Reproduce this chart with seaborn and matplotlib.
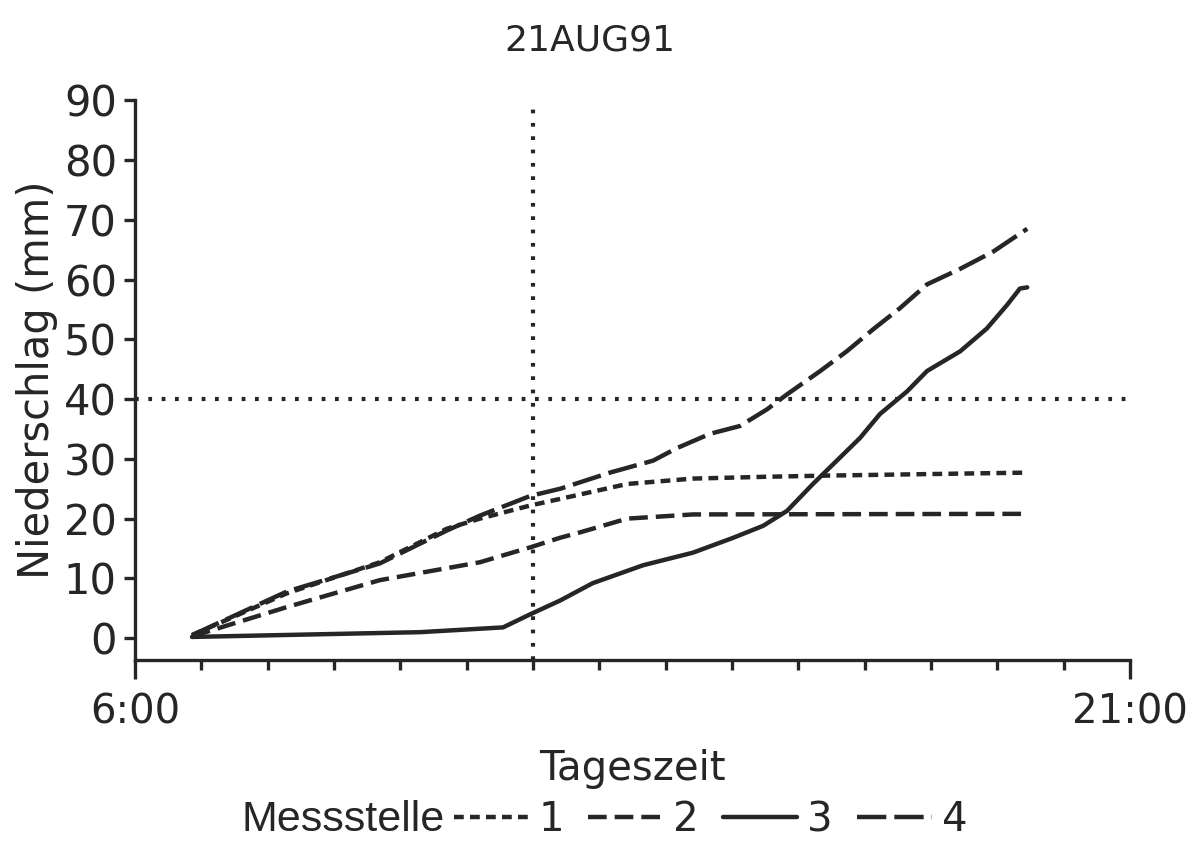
import matplotlib
matplotlib.use("Agg")
import matplotlib.pyplot as plt
from matplotlib.lines import Line2D
from matplotlib.ticker import FixedLocator, FuncFormatter
import seaborn as sns
import pandas as pd

# ---- data (hours of day, precipitation mm) ----
t1 = [6.86, 8.29, 9.69, 10.70, 11.20, 11.96, 12.41, 13.42, 14.41, 15.50, 16.43, 19.45]
s1 = [0.5, 7.5, 12.7, 18.3, 20.0, 22.2, 23.3, 25.8, 26.7, 27.0, 27.2, 27.7]

t2 = [6.86, 8.29, 9.69, 11.20, 11.96, 12.41, 12.71, 13.42, 14.41, 19.45]
s2 = [0.3, 5.2, 9.7, 12.7, 15.2, 16.8, 17.7, 20.0, 20.7, 20.8]

t3 = [6.86, 10.30, 11.55, 11.96, 12.41, 12.90, 13.66, 14.41, 15.02, 15.47, 15.83,
      16.22, 16.58, 16.93, 17.23, 17.64, 17.94, 18.44, 18.84, 19.15, 19.34, 19.45]
s3 = [0.2, 1.0, 1.8, 4.0, 6.3, 9.2, 12.2, 14.3, 16.8, 18.8, 21.3,
      25.8, 29.7, 33.5, 37.5, 41.3, 44.7, 48.0, 51.8, 55.8, 58.5, 58.7]

t4 = [6.86, 8.29, 9.69, 10.70, 11.20, 11.96, 12.41, 13.16, 13.81, 14.17, 14.67,
      15.12, 15.53, 15.83, 16.33, 16.73, 17.13, 17.53, 17.94, 18.44, 18.94, 19.45]
s4 = [0.5, 7.8, 12.5, 18.0, 20.5, 23.8, 25.0, 27.7, 29.7, 31.8, 34.2,
      35.5, 38.3, 40.8, 44.7, 48.0, 51.7, 55.2, 59.2, 61.8, 64.7, 68.5]

stations = ["1", "2", "3", "4"]
title = "21AUG91"
x_label = "Tageszeit"
y_label = "Niederschlag (mm)"
legend_title = "Messstelle"
x_major = [6, 21]
x_minor = list(range(7, 21))
y_ticks = [0, 10, 20, 30, 40, 50, 60, 70, 80, 90]
ref_time = 12.0
ref_level = 40.0

df = pd.concat([
    pd.DataFrame({"Tageszeit": t, "Niederschlag": s, "Messstelle": st})
    for t, s, st in zip([t1, t2, t3, t4], [s1, s2, s3, s4], stations)
], ignore_index=True)

sns.set_theme(style="ticks")
plt.rcParams["font.family"] = ["DejaVu Sans"]

ink = "#262626"
LW = 3.2
dash_map = {"1": (2.2, 1.4), "2": (4.2, 1.8), "3": "", "4": (6.6, 1.8)}

fig = plt.figure(figsize=(11.87, 8.43), dpi=100)
ax = fig.add_axes([0.1137, 0.217, 0.8383, 0.664])

sns.lineplot(data=df, x="Tageszeit", y="Niederschlag", style="Messstelle",
             dashes=dash_map, color=ink, lw=LW, estimator=None, sort=False,
             legend=False, ax=ax)

ax.axvline(ref_time, color=ink, lw=3.0, linestyle=(0, (0.9, 2.3)))
ax.axhline(ref_level, color=ink, lw=3.0, linestyle=(0, (0.9, 2.3)))

ax.set_xlim(6, 21)
ax.set_ylim(-3.67, 90)
ax.xaxis.set_major_locator(FixedLocator(x_major))
ax.xaxis.set_minor_locator(FixedLocator(x_minor))
ax.xaxis.set_major_formatter(FuncFormatter(lambda v, p: f"{int(v)}:00"))
ax.set_yticks(y_ticks)

for s in ["top", "right"]:
    ax.spines[s].set_visible(False)
for s in ["left", "bottom"]:
    ax.spines[s].set_linewidth(2.4)
    ax.spines[s].set_color(ink)
ax.spines["left"].set_bounds(-3.67, 90)

ax.tick_params(axis="x", which="major", length=14, width=2.4, color=ink,
               labelsize=29, pad=9, labelcolor=ink)
ax.tick_params(axis="x", which="minor", length=7, width=2.4, color=ink)
ax.tick_params(axis="y", which="major", length=8, width=2.4, color=ink,
               labelsize=30, pad=5, labelcolor=ink)

ax.set_xlabel(x_label, fontsize=29, color=ink, labelpad=12)
ax.set_ylabel(y_label, fontsize=30, color=ink, labelpad=4)
fig.text(0.497, 0.952, title, ha="center", va="center", fontsize=26, color=ink)

# legend
fig.text(0.375, 0.014, legend_title, ha="right", va="baseline", fontsize=31,
         color=ink, family=["Liberation Sans Narrow", "Liberation Sans", "DejaVu Sans"])
handles = [Line2D([], [], color=ink, lw=LW,
                  linestyle=(0, dash_map[st]) if dash_map[st] else "-")
           for st in stations]
fig.legend(handles, stations, loc="lower left", bbox_to_anchor=(0.352, -0.040),
           ncol=4, frameon=False, fontsize=29, handlelength=1.85,
           handletextpad=0.25, columnspacing=0.6, labelcolor=ink)

fig.savefig("out.png", dpi=100, facecolor="white")
